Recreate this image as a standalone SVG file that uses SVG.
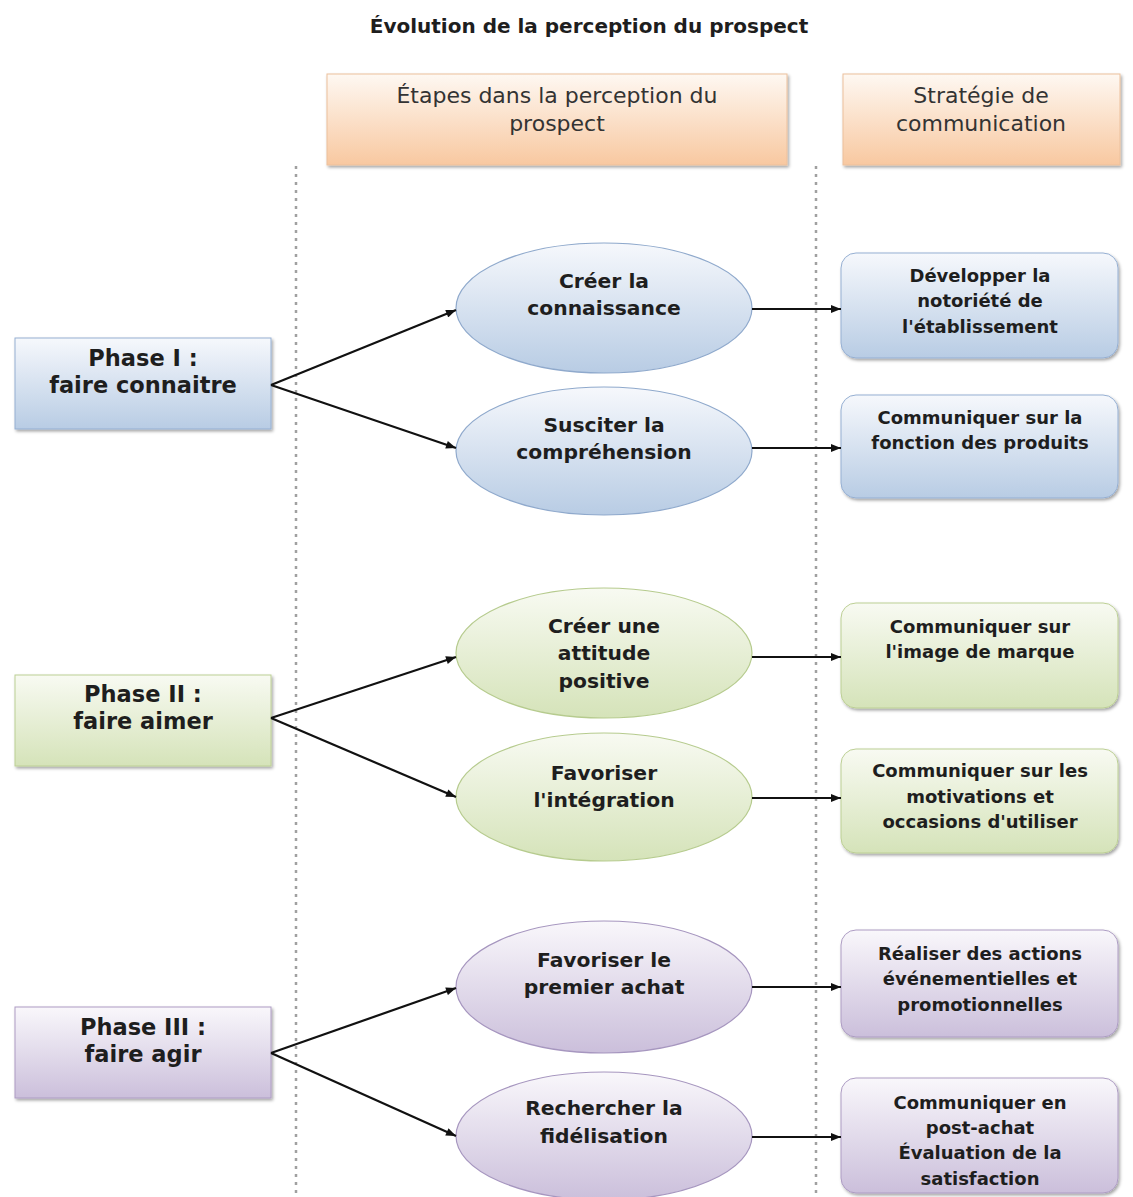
<svg xmlns="http://www.w3.org/2000/svg" width="1133" height="1197" viewBox="0 0 1133 1197">
<style>
text{font-family:"DejaVu Sans","Verdana",sans-serif;text-anchor:middle;fill:#1e1e1e}
.title{font-size:20px;font-weight:bold}
.hdr{font-size:22px;fill:#333}
.ph{font-size:22.5px;font-weight:bold}
.el{font-size:20.3px;font-weight:bold}
.bx{font-size:18px;font-weight:bold}
.conn line{stroke:#111;stroke-width:2.2;marker-end:url(#ah)}
.sep{stroke:#a0a0a0;stroke-width:2.5;stroke-dasharray:3 5}
</style>
<defs>
<marker id="ah" viewBox="0 0 10 8" refX="10" refY="4" markerWidth="11" markerHeight="8" markerUnits="userSpaceOnUse" orient="auto"><path d="M0,0 L10,4 L0,8 z" fill="#111"/></marker>
<linearGradient id="gOr" x1="0" y1="0" x2="0" y2="1"><stop offset="0" stop-color="#fef8f2"/><stop offset="1" stop-color="#f8c8a0"/></linearGradient>
<linearGradient id="gBl" x1="0" y1="0" x2="0" y2="1"><stop offset="0" stop-color="#f6f8fc"/><stop offset="1" stop-color="#b8cce4"/></linearGradient>
<linearGradient id="gGr" x1="0" y1="0" x2="0" y2="1"><stop offset="0" stop-color="#f8faf2"/><stop offset="1" stop-color="#d5e3b9"/></linearGradient>
<linearGradient id="gPu" x1="0" y1="0" x2="0" y2="1"><stop offset="0" stop-color="#f9f7fb"/><stop offset="1" stop-color="#cbbfdb"/></linearGradient>
<filter id="sh" x="-10%" y="-10%" width="125%" height="130%"><feDropShadow dx="1.5" dy="2" stdDeviation="1.5" flood-color="#000" flood-opacity="0.35"/></filter>
</defs>

<text class="title" x="589" y="33">Évolution de la perception du prospect</text>

<line class="sep" x1="296" y1="166" x2="296" y2="1197"/>
<line class="sep" x1="816" y1="166" x2="816" y2="1197"/>

<g id="hdr-etapes">
<rect x="327" y="74" width="460" height="91" fill="url(#gOr)" stroke="#ecc09c" stroke-width="1" filter="url(#sh)"/>
<text class="hdr" x="557" y="103">Étapes dans la perception du</text>
<text class="hdr" x="557" y="131">prospect</text>
</g>
<g id="hdr-strategie">
<rect x="843" y="74" width="277" height="91" fill="url(#gOr)" stroke="#ecc09c" stroke-width="1" filter="url(#sh)"/>
<text class="hdr" x="981" y="103">Stratégie de</text>
<text class="hdr" x="981" y="131">communication</text>
</g>

<g id="phase1">
<rect x="15" y="338" width="256" height="91" fill="url(#gBl)" stroke="#95afd2" stroke-width="1" filter="url(#sh)"/>
<text class="ph" x="143" y="366">Phase I :</text>
<text class="ph" x="143" y="393">faire connaitre</text>
</g>
<g id="phase2">
<rect x="15" y="675" width="256" height="91" fill="url(#gGr)" stroke="#bccf94" stroke-width="1" filter="url(#sh)"/>
<text class="ph" x="143" y="702">Phase II :</text>
<text class="ph" x="143" y="729">faire aimer</text>
</g>
<g id="phase3">
<rect x="15" y="1007" width="256" height="91" fill="url(#gPu)" stroke="#ad9cc3" stroke-width="1" filter="url(#sh)"/>
<text class="ph" x="143" y="1035">Phase III :</text>
<text class="ph" x="143" y="1062">faire agir</text>
</g>

<g id="e1">
<ellipse cx="604" cy="308" rx="148" ry="65" fill="url(#gBl)" stroke="#8fa9cc" stroke-width="1.2"/>
<text class="el" x="604" y="288">Créer la</text>
<text class="el" x="604" y="315">connaissance</text>
</g>
<g id="e2">
<ellipse cx="604" cy="451" rx="148" ry="64" fill="url(#gBl)" stroke="#8fa9cc" stroke-width="1.2"/>
<text class="el" x="604" y="432">Susciter la</text>
<text class="el" x="604" y="459">compréhension</text>
</g>
<g id="e3">
<ellipse cx="604" cy="653" rx="148" ry="65" fill="url(#gGr)" stroke="#b6cb8e" stroke-width="1.2"/>
<text class="el" x="604" y="633">Créer une</text>
<text class="el" x="604" y="660">attitude</text>
<text class="el" x="604" y="688">positive</text>
</g>
<g id="e4">
<ellipse cx="604" cy="797" rx="148" ry="64" fill="url(#gGr)" stroke="#b6cb8e" stroke-width="1.2"/>
<text class="el" x="604" y="780">Favoriser</text>
<text class="el" x="604" y="807">l'intégration</text>
</g>
<g id="e5">
<ellipse cx="604" cy="987" rx="148" ry="66" fill="url(#gPu)" stroke="#a696bf" stroke-width="1.2"/>
<text class="el" x="604" y="967">Favoriser le</text>
<text class="el" x="604" y="994">premier achat</text>
</g>
<g id="e6">
<ellipse cx="604" cy="1136" rx="148" ry="64" fill="url(#gPu)" stroke="#a696bf" stroke-width="1.2"/>
<text class="el" x="604" y="1115">Rechercher la</text>
<text class="el" x="604" y="1143">fidélisation</text>
</g>

<g id="b1">
<rect x="841" y="253" width="277" height="105" rx="15" fill="url(#gBl)" stroke="#95afd2" stroke-width="1" filter="url(#sh)"/>
<text class="bx" x="980" y="282">Développer la</text>
<text class="bx" x="980" y="307">notoriété de</text>
<text class="bx" x="980" y="333">l'établissement</text>
</g>
<g id="b2">
<rect x="841" y="395" width="277" height="103" rx="15" fill="url(#gBl)" stroke="#95afd2" stroke-width="1" filter="url(#sh)"/>
<text class="bx" x="980" y="424">Communiquer sur la</text>
<text class="bx" x="980" y="449">fonction des produits</text>
</g>
<g id="b3">
<rect x="841" y="603" width="277" height="105" rx="15" fill="url(#gGr)" stroke="#bccf94" stroke-width="1" filter="url(#sh)"/>
<text class="bx" x="980" y="633">Communiquer sur</text>
<text class="bx" x="980" y="658">l'image de marque</text>
</g>
<g id="b4">
<rect x="841" y="749" width="277" height="104" rx="15" fill="url(#gGr)" stroke="#bccf94" stroke-width="1" filter="url(#sh)"/>
<text class="bx" x="980" y="777">Communiquer sur les</text>
<text class="bx" x="980" y="803">motivations et</text>
<text class="bx" x="980" y="828">occasions d'utiliser</text>
</g>
<g id="b5">
<rect x="841" y="930" width="277" height="107" rx="15" fill="url(#gPu)" stroke="#ad9cc3" stroke-width="1" filter="url(#sh)"/>
<text class="bx" x="980" y="960">Réaliser des actions</text>
<text class="bx" x="980" y="985">événementielles et</text>
<text class="bx" x="980" y="1011">promotionnelles</text>
</g>
<g id="b6">
<rect x="841" y="1078" width="277" height="115" rx="15" fill="url(#gPu)" stroke="#ad9cc3" stroke-width="1" filter="url(#sh)"/>
<text class="bx" x="980" y="1109">Communiquer en</text>
<text class="bx" x="980" y="1134">post-achat</text>
<text class="bx" x="980" y="1159">Évaluation de la</text>
<text class="bx" x="980" y="1185">satisfaction</text>
</g>

<g id="connectors" class="conn">
<line x1="271" y1="385" x2="456" y2="310"/>
<line x1="271" y1="385" x2="456" y2="448"/>
<line x1="271" y1="718" x2="456" y2="657"/>
<line x1="271" y1="718" x2="456" y2="797"/>
<line x1="271" y1="1053" x2="456" y2="988"/>
<line x1="271" y1="1053" x2="456" y2="1136"/>
<line x1="752" y1="309" x2="841" y2="309"/>
<line x1="752" y1="448" x2="841" y2="448"/>
<line x1="752" y1="657" x2="841" y2="657"/>
<line x1="752" y1="798" x2="841" y2="798"/>
<line x1="752" y1="987" x2="841" y2="987"/>
<line x1="752" y1="1137" x2="841" y2="1137"/>
</g>
</svg>
